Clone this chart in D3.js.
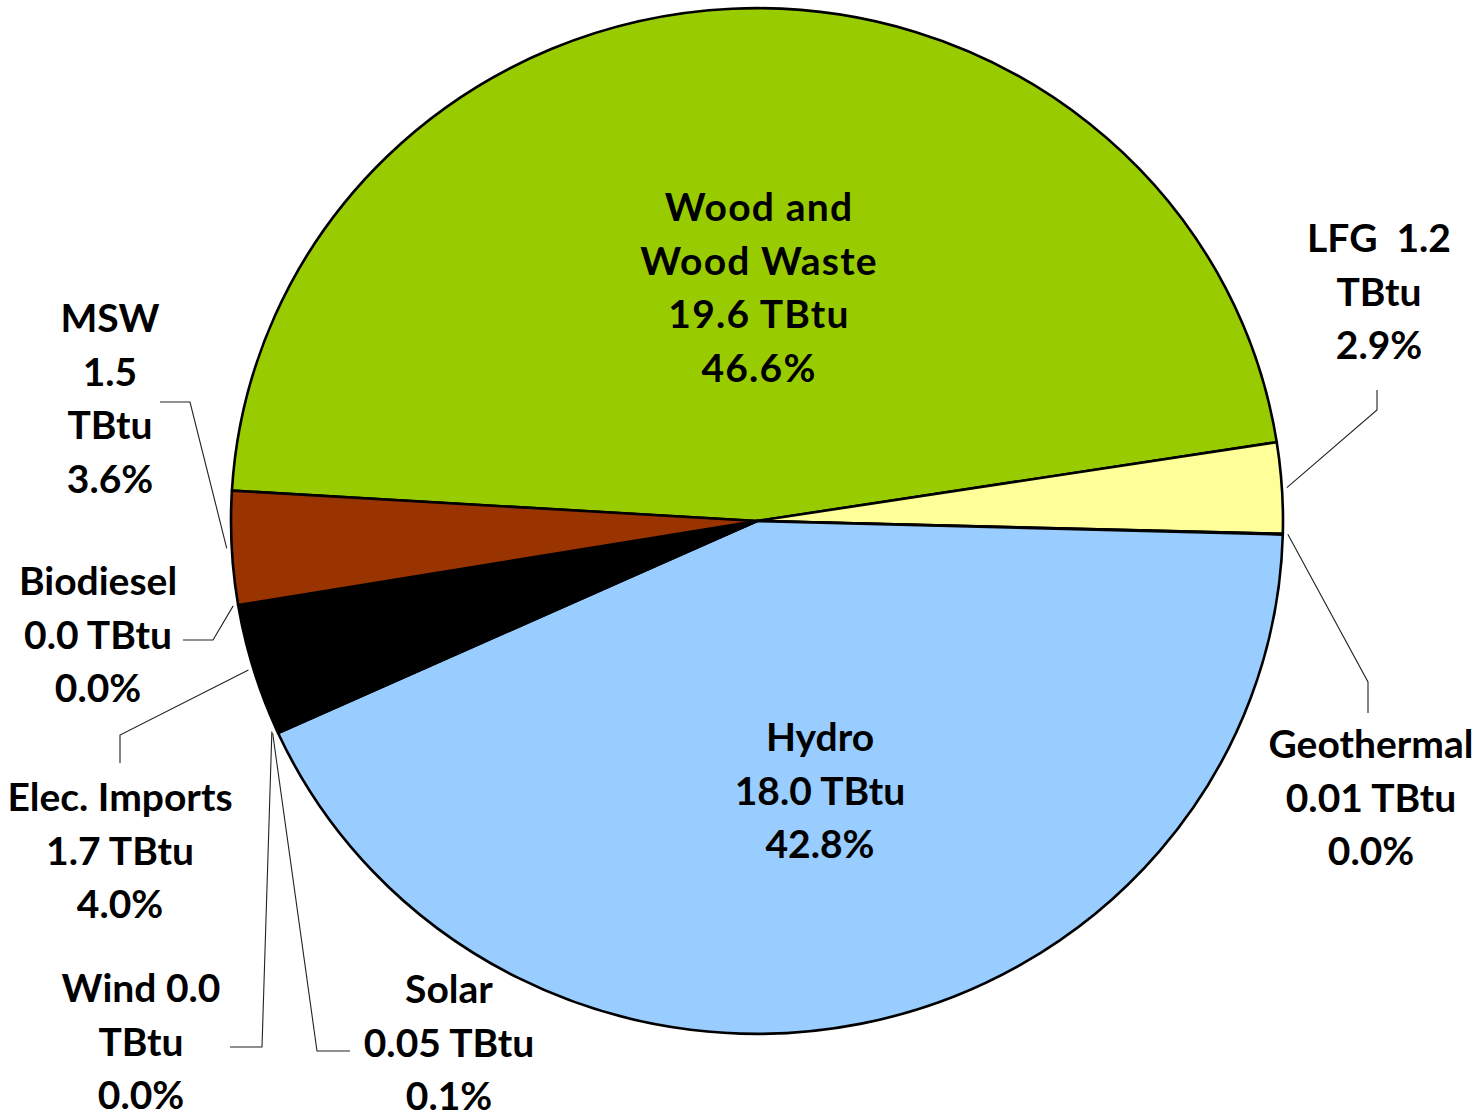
<!DOCTYPE html>
<html>
<head>
<meta charset="utf-8">
<script src="https://cdn.jsdelivr.net/npm/d3@7"></script>
<style>
  html, body { margin: 0; padding: 0; background: #fff; }
  svg { display: block; }
  text { font-family: Lato, "Open Sans", sans-serif; font-weight: 700; fill: #000; white-space: pre; }
</style>
</head>
<body>
<svg id="chart" width="1480" height="1118"></svg>
<script>
// ---- data ----
const categories = ["Wood and Wood Waste", "LFG", "Geothermal", "Hydro", "Solar", "Wind", "Elec. Imports", "Biodiesel", "MSW"];
const values = [19.6, 1.2, 0.01, 18.0, 0.05, 0.0, 1.7, 0.0, 1.5];
const valueText = ["19.6", "1.2", "0.01", "18.0", "0.05", "0.0", "1.7", "0.0", "1.5"];
const colors = ["#99CC00", "#FFFF99", "#FFFFFF", "#99CCFF", "#000000", "#FFFFFF", "#000000", "#FFFFFF", "#993300"];
// label line templates: {v} = value, {p} = percent
const labelLines = [
  ["Wood and", "Wood Waste", "{v} TBtu", "{p}"],
  ["LFG  {v}", "TBtu", "{p}"],
  ["Geothermal", "{v} TBtu", "{p}"],
  ["Hydro", "{v} TBtu", "{p}"],
  ["Solar", "{v} TBtu", "{p}"],
  ["Wind {v}", "TBtu", "{p}"],
  ["Elec. Imports", "{v} TBtu", "{p}"],
  ["Biodiesel", "{v} TBtu", "{p}"],
  ["MSW", "{v}", "TBtu", "{p}"]
];

// ---- layout ----
const cx = 757, cy = 521, R = 526, yScale = 0.975;
const startDeg = -86.6;
const lineH = 53.7;
// label anchor: [centerX, first baseline]
const labelPos = [
  [759, 221], [1379, 252], [1371, 758], [820, 751], [449, 1003],
  [141, 1002], [120, 811], [98, 595], [110, 332]
];
const letterSp = [1.2, 0, 0, 0, 0, 0, 0, 0, 0];
// leader elbows (from label side toward pie); null = no leader
const leaderElbows = [
  null,
  [[1377, 390], [1377, 410]],
  [[1368, 713], [1368, 682]],
  null,
  [[350, 1051], [317, 1051]],
  [[230, 1047], [262, 1047]],
  [[120, 763], [120, 735]],
  [[183, 640], [213, 640]],
  [[160, 402], [190, 402]]
];

const svg = d3.select("#chart");
const total = d3.sum(values);
const fmtPct = d3.format(".1%");

const pie = d3.pie().sort(null).value(d => d)
  .startAngle(startDeg * Math.PI / 180)
  .endAngle((startDeg + 360) * Math.PI / 180);
const arcs = pie(values);
const arc = d3.arc().innerRadius(0).outerRadius(R);

const g = svg.append("g").attr("transform", `translate(${cx},${cy}) scale(1,${yScale})`);
g.selectAll("path.slice")
  .data(arcs.filter(d => d.endAngle - d.startAngle > 0))
  .join("path")
  .attr("class", "slice")
  .attr("d", arc)
  .attr("fill", d => colors[d.index])
  .attr("stroke", "#000")
  .attr("stroke-width", 2.6)
  .attr("stroke-linejoin", "round")
  .attr("vector-effect", "non-scaling-stroke");

// leader lines
function edgePoint(a, off) {
  return [cx + (R + off) * Math.sin(a), cy - (R + off) * yScale * Math.cos(a)];
}
arcs.forEach((d, i) => {
  const el = leaderElbows[i];
  if (!el) return;
  const mid = (d.startAngle + d.endAngle) / 2;
  const end = edgePoint(mid, 5);
  const pts = el.concat([end]);
  svg.append("path")
    .attr("d", d3.line()(pts))
    .attr("fill", "none")
    .attr("stroke", "#222")
    .attr("stroke-width", 1.1);
});

// labels
arcs.forEach((d, i) => {
  const pct = fmtPct(values[i] / total);
  const lines = labelLines[i].map(t => t.replace("{v}", valueText[i]).replace("{p}", pct));
  const [x, y0] = labelPos[i];
  const t = svg.append("text")
    .attr("text-anchor", "middle")
    .attr("font-size", 39)
    .attr("letter-spacing", letterSp[i]);
  lines.forEach((ln, k) => {
    t.append("tspan").attr("x", x).attr("y", y0 + k * lineH).text(ln);
  });
});
</script>
</body>
</html>
